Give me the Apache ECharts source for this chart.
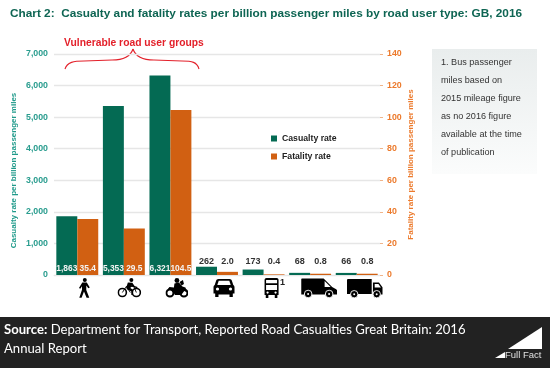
<!DOCTYPE html>
<html><head><meta charset="utf-8">
<style>html,body{margin:0;padding:0;background:#fff}#c{width:550px;height:368px}</style>
<script src="https://cdn.jsdelivr.net/npm/echarts@6/dist/echarts.min.js"></script>
</head><body><div id="c"></div>
<script>
const categories = ['walk','cycle','moto','car','bus','van','lorry'];
const casualtyRate = [1863,5353,6321,262,173,68,66];
const fatalityRate = [35.4,29.5,104.5,2.0,0.4,0.8,0.8];
const fatalityLabels = ['35.4','29.5','104.5','2.0','0.4','0.8','0.8'];
const leftTicks = {min:0,max:7000,interval:1000};
const rightTicks = {min:0,max:140,interval:20};
const titleText = 'Chart 2:  Casualty and fatality rates per billion passenger miles by road user type: GB, 2016';
const noteLines = ['1. Bus passenger','miles based on','2015 mileage figure','as no 2016 figure','available at the time','of publication'];

const GREEN='#046a53', ORANGE='#d16012', RED='#e3202a';
const GRID={left:54,top:54,width:326,height:221};
const svg = (w,h,b) => 'data:image/svg+xml;utf8,'+encodeURIComponent(`<svg xmlns="http://www.w3.org/2000/svg" width="${w*3}" height="${h*3}" viewBox="0 0 ${w} ${h}">${b}</svg>`);
const wheel=(x,y,r,s)=>`<circle cx="${x}" cy="${y}" r="${r}" fill="none" stroke="#000" stroke-width="${s}"/>`;
const hub=(x,y,r)=>`<circle cx="${x}" cy="${y}" r="${r}" fill="#000" stroke="#fff" stroke-width=".9"/><circle cx="${x}" cy="${y}" r="1" fill="#fff"/>`;
const icons = {
 walk:{w:12,h:20,img:svg(12,20,'<circle cx="6.500" cy="2" r="2"/><path d="M4 4.500h4.500l3 5-1.500.8-2-2.800v4.500l3 7.800H8.300L5.700 13.500 3.300 19.800H1l2.700-8V8.300L2 10.800.7 10z"/>')},
 cycle:{w:24,h:20,img:svg(24,20,wheel(5,14.500,4,1.600)+wheel(19,14.500,4,1.600)+'<circle cx="14" cy="2" r="2"/><path d="M10.500 4.500l4.500.2 2.200 3.300 3 1-.4 1.300-3.600-1-1.700-1.600-1.500 2.400 2.600 1.700V17h-1.600v-3.400l-4.500-2.400-.6-1.600z"/><path d="M5 14.500l4-6h7.500l2.500 6M9 8.500l4 6" fill="none" stroke="#000" stroke-width=".9"/>')},
 moto:{w:23,h:20,img:svg(23,20,wheel(4.500,15,3.500,2)+wheel(18.500,15,3.500,2)+'<circle cx="11.500" cy="2.500" r="2.400"/><path d="M9 5.500l4.500-1 3.500 4 3 1 1.800 5-3-1.500-3 4H9.500L6.500 11.800 2.500 11l1.500-2 4.500.6z"/><path d="M14 4l3.500-2 1 4-2.300 1.500z"/>')},
 car:{w:22,h:19,img:svg(22,19,'<path d="M5.500 1h11c1.400 0 2 .7 2.400 1.800l1.400 4.200c.9.600 1.200 1.400 1.200 2.400v6h-1.700V19h-3.300v-2.600H5.500V19H2.200v-3.600H.5v-6c0-1 .3-1.800 1.200-2.400l1.400-4.200C3.500 1.700 4.100 1 5.500 1z"/><path d="M5.700 2.800h10.600L17.700 7H4.300z" fill="#fff"/><circle cx="4.500" cy="11" r="1.600" fill="#fff"/><circle cx="17.500" cy="11" r="1.600" fill="#fff"/>')},
 bus:{w:15,h:20,img:svg(15,20,'<path d="M2.500 0h10c1.200 0 2 .8 2 2v15h-1.200v3h-2.600v-3H4.300v3H1.700v-3H.5V2c0-1.200.8-2 2-2z"/><path d="M2 2h11v3.300H2zM2 7h11v5H2z" fill="#fff"/><circle cx="3.500" cy="14.600" r="1.100" fill="#fff"/><circle cx="11.500" cy="14.600" r="1.100" fill="#fff"/>')},
 van:{w:36,h:20,img:svg(36,20,'<path d="M0 1.500C0 .8.500.5 1 .5h21.500l8.500 8.500 4 2.200c.6.400 1 1 1 2V16.500H0z"/><path d="M23.500 3v6h6z" fill="#fff"/>'+hub(7,16,3.800)+hub(28,16,3.800))},
 lorry:{w:36,h:20,img:svg(36,20,'<path d="M0 2.500C0 1.500.6 1 1.500 1H25v15H0z"/><path d="M26.200 4.500h6l3.800 5v7H26.200z"/><path d="M28 6h3.700l2.500 3.500H28z" fill="#fff"/>'+hub(7.500,16.200,3.700)+hub(30,16.200,3.700))}
};
const spacers = {walk:14,cycle:11,moto:13,car:14,bus:22,van:18,lorry:16};
const rich = {sup:{color:'#222',fontSize:9,fontWeight:'bold',fontFamily:'Liberation Sans',verticalAlign:'top',padding:[0,0,8,1]}};
categories.forEach(k=>{
 rich[k]={width:icons[k].w,height:icons[k].h,backgroundColor:{image:icons[k].img}};
 rich['sp_'+k]={width:spacers[k],height:icons[k].h};
});

// Labels of the small bars sit on one common level above the axis.
const LABEL_LEVEL=9;
const lab = (i,text,v,max)=> i<3
 ? {show:true,position:'insideBottom',distance:2,color:'#f4f4f4',fontSize:8.4,fontWeight:'bold',fontFamily:'Liberation Sans',formatter:()=>text}
 : {show:true,position:'top',distance:Math.max(1,LABEL_LEVEL-v/max*GRID.height),color:'#333',fontSize:9,fontWeight:'bold',fontFamily:'Liberation Sans',formatter:()=>text};

const curve=(x1,y1,cpx1,cpy1,cpx2,cpy2,x2,y2)=>({type:'bezierCurve',shape:{x1,y1,cpx1,cpy1,cpx2,cpy2,x2,y2},style:{fill:null,stroke:RED,lineWidth:1.1}});

const chart = echarts.init(document.getElementById('c'),null,{renderer:'canvas'});
chart.setOption({
 animation:false,
 backgroundColor:'#fff',
 title:{text:titleText,left:5,top:3,textStyle:{color:'#0e6553',fontSize:11.8,fontWeight:'bold',fontFamily:'Liberation Sans'}},
 grid:{...GRID,containLabel:false},
 legend:{orient:'vertical',left:266,top:129,itemWidth:6,itemHeight:6,itemGap:9,icon:'rect',
  textStyle:{color:'#222',fontSize:8.7,fontWeight:'bold',fontFamily:'Liberation Sans'},data:['Casualty rate','Fatality rate']},
 xAxis:{type:'category',data:categories,
  axisLine:{show:true,lineStyle:{color:'#e6e6e6'}},axisTick:{show:false},
  axisLabel:{interval:0,margin:3,rich,formatter:v=>v==='bus'?`{sp_${v}|}{${v}|}{sup|1}`:`{sp_${v}|}{${v}|}`}},
 yAxis:[
  {type:'value',...leftTicks,name:'Casualty rate per billion passenger miles',nameLocation:'middle',nameGap:36,nameRotate:90,nameMoveOverlap:false,
   nameTextStyle:{color:'#1f9a8a',fontSize:8,fontWeight:'bold',fontFamily:'Liberation Sans',padding:[0,12,0,0]},
   axisLine:{show:false},axisTick:{show:false},
   axisLabel:{color:'#2a9d8f',fontSize:8.8,fontWeight:'bold',fontFamily:'Liberation Sans',margin:6,formatter:v=>v.toLocaleString('en-GB')},
   splitLine:{show:true,lineStyle:{color:'#e6e6e6',width:1.3}}},
  {type:'value',...rightTicks,name:'Fatality rate per billion passenger miles',nameLocation:'middle',nameGap:27,nameRotate:90,nameMoveOverlap:false,
   nameTextStyle:{color:'#ec7a2c',fontSize:8,fontWeight:'bold',fontFamily:'Liberation Sans'},
   axisLine:{show:false},axisTick:{show:true,length:3,lineStyle:{color:'#f0b48a'}},
   axisLabel:{color:'#ec7a2c',fontSize:8.8,fontWeight:'bold',fontFamily:'Liberation Sans',margin:7},
   splitLine:{show:false}}
 ],
 series:[
  {name:'Casualty rate',type:'bar',yAxisIndex:0,barGap:'0%',barCategoryGap:'10%',itemStyle:{color:GREEN},
   data:casualtyRate.map((v,i)=>({value:v,label:lab(i,v.toLocaleString('en-GB'),v,leftTicks.max)}))},
  {name:'Fatality rate',type:'bar',yAxisIndex:1,barGap:'0%',barCategoryGap:'10%',itemStyle:{color:ORANGE},
   data:fatalityRate.map((v,i)=>({value:v,label:lab(i,fatalityLabels[i],v,rightTicks.max)}))}
 ],
 graphic:[
  {type:'text',x:64,y:38,style:{text:'Vulnerable road user groups',fill:RED,font:'bold 10.3px "Liberation Sans"'}},
  curve(65,69,67,62,74,61,84,61),
  {type:'line',shape:{x1:84,y1:61,x2:112,y2:60},style:{stroke:RED,lineWidth:1.1}},
  curve(112,60,122,60,130,58,133,49),
  curve(133,49,136,58,144,60,154,60),
  {type:'line',shape:{x1:154,y1:60,x2:182,y2:61},style:{stroke:RED,lineWidth:1.1}},
  curve(182,61,192,61,197,62,199,69),
  {type:'rect',shape:{x:432,y:49,width:105,height:125},style:{fill:new echarts.graphic.LinearGradient(0,0,0,1,[{offset:0,color:'#e9eded'},{offset:1,color:'#fbfcfc'}])}},
  ...noteLines.map((t,i)=>({type:'text',x:441,y:58+i*18,style:{text:t,fill:'#333',font:'9.1px "Liberation Sans"'}})),
  {type:'rect',shape:{x:0,y:317,width:550,height:51},style:{fill:'#222222'}},
  {type:'text',x:4,y:323,style:{rich:{b:{fill:'#fff',font:'bold 13.1px Lato'},n:{fill:'#fff',font:'13.1px Lato'}},text:'{b|Source:} {n|Department for Transport, Reported Road Casualties Great Britain: 2016}'}},
  {type:'text',x:4,y:342,style:{text:'Annual Report',fill:'#fff',font:'13.1px Lato'}},
  {type:'polygon',shape:{points:[[508,349],[542,327],[542,349]]},style:{fill:'#fff'}},
  {type:'polygon',shape:{points:[[495,358],[505,352],[505,358]]},style:{fill:'#fff'}},
  {type:'text',x:505,y:350,style:{text:'Full Fact',fill:'#e0e0e0',font:'9.5px "Liberation Sans"'}}
 ]
});
</script></body></html>
